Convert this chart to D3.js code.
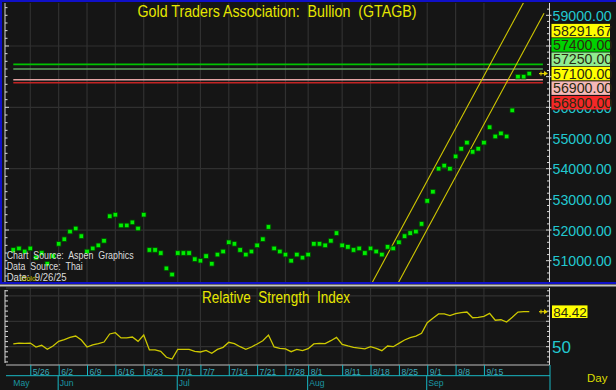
<!DOCTYPE html>
<html><head><meta charset="utf-8">
<script src="https://cdn.jsdelivr.net/npm/d3@7"></script>
<style>
html,body{margin:0;padding:0;background:#151515;}
svg{display:block;font-family:"Liberation Sans",Arial,sans-serif;}
</style>
</head><body>
<svg id="c" width="616" height="390"></svg>
<script>
// ---------- data ----------
const firstDay = "2025-05-21";
const lastDay = "2025-09-25";
const prices = [
  51350, 51400, 51300, 51400, 51100, 51250, 50900, 51150, 51550, 51700,
  51950, 52050, 51800, 51300, 51400, 51500, 51650, 52450, 52500, 52150,
  52150, 52250, 52050, 52500, 51350, 51350, 51250, 50750, 50550, 51250,
  51250, 51250, 51050, 51000, 51150, 50900, 51200, 51300, 51600, 51550,
  51350, 51200, 51300, 51500, 51700, 52100, 51400, 51300, 51200, 51000,
  51200, 51100, 51200, 51550, 51550, 51500, 51650, 51900, 51500, 51450,
  51350, 51400, 51250, 51400, 51300, 51200, 51450, 51400, 51600, 51800,
  51900, 51950, 52200, 52950, 53250, 54000, 54100, 54000, 54400, 54650,
  54850, 54550, 54650, 54850, 55350, 55050, 55150, 55050, 55900, 57000,
  57000, 57100
];
const rsi = [
  52.7, 53.6, 53.3, 53.6, 49.7, 51.4, 47.4, 50.7, 55.3, 56.9,
  59.2, 60.5, 56.6, 49.7, 51.7, 53.0, 54.6, 62.5, 63.8, 58.6,
  58.6, 59.5, 55.3, 61.5, 46.8, 46.8, 45.4, 39.6, 37.9, 47.4,
  47.4, 47.4, 45.4, 44.8, 46.4, 43.5, 47.4, 49.4, 54.3, 53.0,
  50.0, 47.4, 49.7, 52.7, 55.9, 61.5, 49.7, 48.4, 47.8, 45.1,
  47.4, 46.1, 48.1, 52.7, 53.3, 53.0, 55.9, 59.2, 52.3, 50.7,
  49.4, 48.7, 47.8, 50.0, 48.4, 46.1, 50.7, 50.0, 53.3, 56.6,
  58.9, 60.5, 63.2, 73.6, 77.9, 82.2, 82.2, 80.5, 82.5, 83.5,
  84.1, 78.5, 78.9, 79.9, 82.8, 76.0, 76.5, 74.3, 78.9, 84.1,
  84.4, 84.42
];
const dayTicks = ["5/26","6/2","6/9","6/16","6/23","7/1","7/7","7/14","7/21","7/28","8/1","8/11","8/18","8/25","9/1","9/8","9/15"];
const monthNames = ["May","Jun","Jul","Aug","Sep"];
const monthStarts = ["5/21","6/2","7/1","8/1","9/1"];
const priceAxisTicks = [51000,52000,53000,54000,55000,56000,57000,58000,59000];
const priceGrid = [52000,54000,56000,58000];
const refLevels = [57400, 57250, 56900, 56800];
const refLineColors = ["#00c400", "#62a262", "#e4a4a4", "#c42424"];
const boxValues = [58291.67, 57400, 57250, 57100, 56900, 56800];
const boxColors = ["#ffff00", "#00d200", "#90ec90", "#ffff00", "#f6b8b8", "#f42828"];
const lastPrice = 57100;
const channelIdx = [60, 93.6];
const channelUpper = [49160, 60650];
const channelLower = [47580, 59070];
const rsiAxisTicks = [50];
const rsiGrid = [50, 75, 100];
const rsiLast = 84.42;
const titleMain = "Gold Traders Association:  Bullion  (GTAGB)";
const titleRsi = "Relative  Strength  Index";
const notes = ["Chart  Source:  Aspen  Graphics", "Data  Source:  Thai", "Date:  9/26/25"];

// ---------- setup ----------
const svg = d3.select("#c");
const parse = d3.timeParse("%Y-%m-%d");
const fmt = d3.timeFormat("%-m/%-d");
const days = d3.timeDay.range(parse(firstDay), d3.timeDay.offset(parse(lastDay), 1))
  .filter(d => d.getDay() !== 0 && d.getDay() !== 6);
const dayIndex = new Map(days.map((d, i) => [fmt(d), i]));

const PL = 6, PR = 548.5, PT = 3, PB = 282;       // main plot
const RT = 288, RB = 365;                          // rsi plot
const x = d3.scaleLinear().domain([0, days.length - 1]).range([13.3, 529.3]);
const y = d3.scaleLinear().domain([51000, 59000]).range([260.7, 15.3]);
const yR = d3.scaleLinear().domain([50, rsiLast]).range([346.7, 311.7]);

const BG = "#151515", GRID = "#303030", CYAN = "#22c8d0", YEL = "#e6e600";

svg.append("rect").attr("width", 616).attr("height", 390).attr("fill", BG);

const defs = svg.append("defs");
defs.append("clipPath").attr("id", "cm").append("rect")
  .attr("x", PL).attr("y", PT).attr("width", PR - PL).attr("height", PB - PT);
defs.append("clipPath").attr("id", "cr").append("rect")
  .attr("x", PL).attr("y", RT).attr("width", PR - PL).attr("height", RB - RT);

// ---------- main panel ----------
const gm = svg.append("g");
const tickIdx = dayTicks.map(t => dayIndex.get(t));

// grid
gm.selectAll(".vg").data(tickIdx).join("line")
  .attr("x1", d => x(d)).attr("x2", d => x(d)).attr("y1", PT).attr("y2", PB)
  .attr("stroke", GRID).attr("stroke-width", 1.2);
gm.selectAll(".hg").data(priceGrid).join("line")
  .attr("x1", PL).attr("x2", PR).attr("y1", d => y(d)).attr("y2", d => y(d))
  .attr("stroke", GRID).attr("stroke-width", 1.2);

const clipM = gm.append("g").attr("clip-path", "url(#cm)");

// reference lines
clipM.selectAll(".ref").data(refLevels).join("line")
  .attr("x1", x(0)).attr("x2", x(93.4))
  .attr("y1", d => y(d)).attr("y2", d => y(d))
  .attr("stroke", (d, i) => refLineColors[i]).attr("stroke-width", 1.6);

// channel lines
[channelUpper, channelLower].forEach(vals => {
  clipM.append("line")
    .attr("x1", x(channelIdx[0])).attr("y1", y(vals[0]))
    .attr("x2", x(channelIdx[1])).attr("y2", y(vals[1]))
    .attr("stroke", "#d0c800").attr("stroke-width", 1.1);
});

// price points
clipM.selectAll(".pt").data(prices).join("rect")
  .attr("x", (d, i) => x(i) - 2.3).attr("y", d => y(d) - 2.3)
  .attr("width", 4.6).attr("height", 4.6)
  .attr("fill", "#00ee00").attr("stroke", "#004a00").attr("stroke-width", 0.8);

// last-price arrow marker
function marker(g, yy) {
  g.append("line").attr("x1", 539).attr("x2", 545).attr("y1", yy).attr("y2", yy)
    .attr("stroke", "#e0d000").attr("stroke-width", 1.2);
  g.append("line").attr("x1", 541).attr("x2", 541).attr("y1", yy - 2).attr("y2", yy + 2)
    .attr("stroke", "#e0d000").attr("stroke-width", 1);
  g.append("path").attr("d", `M544,${yy - 2.5}L548,${yy}L544,${yy + 2.5}Z`).attr("fill", "#e0d000");
}
marker(gm, y(lastPrice));

// left axis ticks
gm.append("line").attr("x1", 5).attr("x2", 5).attr("y1", PT).attr("y2", PB)
  .attr("stroke", "#d8d8d8").attr("stroke-width", 1);
const leftTicks = d3.range(50500, 59500, 250).filter(v => y(v) > PT + 1 && y(v) < PB - 1);
gm.selectAll(".lt").data(leftTicks).join("line")
  .attr("x1", 5).attr("x2", d => d % 2000 === 0 ? 9 : 7.5)
  .attr("y1", d => y(d)).attr("y2", d => y(d))
  .attr("stroke", "#d8d8d8").attr("stroke-width", 1);

// right axis
gm.append("line").attr("x1", 549.5).attr("x2", 549.5).attr("y1", PT).attr("y2", PB)
  .attr("stroke", "#d8d8d8").attr("stroke-width", 1);
const rightTicks = d3.range(50400, 59600, 200).filter(v => y(v) > PT + 1 && y(v) < PB - 1);
gm.selectAll(".rt").data(rightTicks).join("line")
  .attr("x1", d => d % 1000 === 0 ? 546 : 547).attr("x2", d => d % 1000 === 0 ? 551.5 : 549.5)
  .attr("y1", d => y(d)).attr("y2", d => y(d))
  .attr("stroke", "#d8d8d8").attr("stroke-width", 1);

// stacked value boxes (positions resolved so they don't collide)
const anchorI = boxValues.indexOf(lastPrice);
const pos = boxValues.map(v => y(v));
for (let i = anchorI - 1; i >= 0; i--) pos[i] = Math.min(pos[i], pos[i + 1] - 14.3);
for (let i = anchorI + 1; i < boxValues.length; i++) pos[i] = Math.max(pos[i], pos[i - 1] + 14.6);
const boxTop = Math.min(...pos) - 6.8, boxBot = Math.max(...pos) + 6.7;

// axis labels that are fully hidden behind the boxes are not drawn
const visibleTicks = priceAxisTicks.filter(v => !(y(v) - 5 > boxTop && y(v) + 5 < boxBot));
const axisR = d3.axisRight(y).tickValues(visibleTicks).tickFormat(d3.format(".2f")).tickSize(0).tickPadding(0);
const ga = gm.append("g").attr("transform", "translate(552.5,0)").call(axisR);
ga.select(".domain").remove();
ga.selectAll("text").attr("fill", CYAN).attr("font-size", "14.2px")
  .attr("font-family", "'Liberation Sans',Arial,sans-serif").attr("dy", "0.36em");

const bx = gm.selectAll(".bx").data(boxValues).join("g")
  .attr("transform", (d, i) => `translate(551.5,${pos[i]})`);
bx.append("rect").attr("x", 0).attr("y", -6.8).attr("width", 58.5).attr("height", 13.5)
  .attr("fill", (d, i) => boxColors[i]);
bx.append("text").attr("x", 1.5).attr("y", 0).attr("dy", "0.36em")
  .attr("font-size", "14.2px").attr("fill", "#2a2a10").text(d => d3.format(".2f")(d));

// title
gm.append("text").attr("x", 277).attr("y", 17.3).attr("text-anchor", "middle")
  .attr("font-size", "16px").attr("fill", YEL)
  .attr("textLength", 279).attr("lengthAdjust", "spacingAndGlyphs")
  .style("white-space", "pre").text(titleMain);

// notes
const noteLens = [127, 76, 60];
const noteBase = [259, 270, 281];
notes.forEach((t, i) => {
  gm.append("text").attr("x", 6.7).attr("y", noteBase[i]).attr("font-size", "11px")
    .attr("fill", "#dcdcdc").attr("textLength", noteLens[i]).attr("lengthAdjust", "spacingAndGlyphs")
    .style("white-space", "pre").text(t);
});
gm.append("text").attr("x", 21).attr("y", 280.5).attr("font-size", "7px").attr("fill", "#c8c800").text("Gold");

// frame
gm.append("line").attr("x1", 0).attr("x2", 616).attr("y1", 1).attr("y2", 1).attr("stroke", "#1010c8").attr("stroke-width", 2);
gm.append("line").attr("x1", 1).attr("x2", 1).attr("y1", 0).attr("y2", 284).attr("stroke", "#1010c8").attr("stroke-width", 2);
gm.append("line").attr("x1", 0).attr("x2", 616).attr("y1", 283).attr("y2", 283).attr("stroke", "#1010c8").attr("stroke-width", 2);
gm.append("line").attr("x1", 0).attr("x2", 616).attr("y1", 285.5).attr("y2", 285.5).attr("stroke", "#c4c4c4").attr("stroke-width", 2);

// ---------- RSI panel ----------
const gr = svg.append("g");
gr.selectAll(".vg").data(tickIdx).join("line")
  .attr("x1", d => x(d)).attr("x2", d => x(d)).attr("y1", RT).attr("y2", RB)
  .attr("stroke", GRID).attr("stroke-width", 1.2);
gr.selectAll(".hg").data(rsiGrid).join("line")
  .attr("x1", PL).attr("x2", PR).attr("y1", d => yR(d)).attr("y2", d => yR(d))
  .attr("stroke", GRID).attr("stroke-width", 1.2);
gr.append("line").attr("x1", PL).attr("x2", PR).attr("y1", RT).attr("y2", RT).attr("stroke", "#3a3a3a");

const line = d3.line().x((d, i) => x(i)).y(d => yR(d));
gr.append("path").attr("clip-path", "url(#cr)").datum(rsi).attr("d", line)
  .attr("fill", "none").attr("stroke", "#cdc800").attr("stroke-width", 1.3);
marker(gr, yR(rsiLast));

gr.append("text").attr("x", 276).attr("y", 303.3).attr("text-anchor", "middle")
  .attr("font-size", "16px").attr("fill", YEL)
  .attr("textLength", 148).attr("lengthAdjust", "spacingAndGlyphs")
  .style("white-space", "pre").text(titleRsi);

// rsi axes
gr.append("line").attr("x1", 5).attr("x2", 5).attr("y1", RT + 2).attr("y2", RB - 2).attr("stroke", "#d8d8d8");
const rl = d3.range(35, 110, 5).filter(v => yR(v) > RT + 1 && yR(v) < RB - 2);
gr.selectAll(".rlt").data(rl).join("line")
  .attr("x1", 5).attr("x2", 8).attr("y1", d => yR(d)).attr("y2", d => yR(d)).attr("stroke", "#d8d8d8");
gr.append("line").attr("x1", 549.5).attr("x2", 549.5).attr("y1", RT).attr("y2", RB).attr("stroke", "#d8d8d8");
gr.selectAll(".rrt").data(rl).join("line")
  .attr("x1", d => d % 25 === 0 ? 546 : 547).attr("x2", 549.5).attr("y1", d => yR(d)).attr("y2", d => yR(d)).attr("stroke", "#d8d8d8");
const axisRR = d3.axisRight(yR).tickValues(rsiAxisTicks).tickSize(0).tickPadding(0);
const gra = gr.append("g").attr("transform", "translate(552,0)").call(axisRR);
gra.select(".domain").remove();
gra.selectAll("text").attr("fill", CYAN).attr("font-size", "17px")
  .attr("font-family", "'Liberation Sans',Arial,sans-serif").attr("dy", "0.36em");
const rb = gr.append("g").attr("transform", `translate(552,${yR(rsiLast)})`);
rb.append("rect").attr("x", 0).attr("y", -6.3).attr("width", 35.5).attr("height", 12.6).attr("fill", "#ffff00");
rb.append("text").attr("x", 1.2).attr("dy", "0.36em").attr("font-size", "13.4px").attr("fill", "#2a2a10")
  .text(d3.format(".2f")(rsiLast));

// date axis
gr.append("line").attr("x1", PL).attr("x2", 549.5).attr("y1", RB).attr("y2", RB).attr("stroke", "#bdbdbd").attr("stroke-width", 1.2);
gr.append("line").attr("x1", 6).attr("x2", 550).attr("y1", 375.7).attr("y2", 375.7).attr("stroke", "#18b8c4").attr("stroke-width", 1);
gr.append("line").attr("x1", 550).attr("x2", 550).attr("y1", RB).attr("y2", 390).attr("stroke", "#18b8c4").attr("stroke-width", 1);
const xAxisDays = d3.axisBottom(x).tickValues(tickIdx).tickSize(0).tickFormat((d, i) => dayTicks[i]);
const gx = gr.append("g").attr("transform", `translate(0,${RB})`).call(xAxisDays);
gx.select(".domain").remove();
gx.selectAll(".tick line").remove();
gx.selectAll(".tick").append("line").attr("x1", 0).attr("x2", 0).attr("y1", 0).attr("y2", 10.7)
  .attr("stroke", "#18b8c4");
gx.selectAll(".tick text").attr("text-anchor", "start").attr("x", 2).attr("y", 9.5).attr("dy", null)
  .attr("fill", "#3aa8b8").attr("font-size", "8.6px").attr("font-family", "'Liberation Sans',Arial,sans-serif");

const monthIdx = monthStarts.map(m => dayIndex.get(m));
const gmo = gr.append("g");
gmo.selectAll("line").data(monthIdx.slice(1)).join("line")
  .attr("x1", d => x(d) - 0.5).attr("x2", d => x(d) - 0.5).attr("y1", 375.7).attr("y2", 390)
  .attr("stroke", "#18b8c4");
gmo.selectAll("text").data(monthIdx).join("text")
  .attr("x", (d, i) => i === 0 ? 13.3 : x(d) + 1).attr("y", 386)
  .attr("fill", "#1a96a2").attr("font-size", "8.6px").text((d, i) => monthNames[i]);

gr.append("text").attr("x", 587).attr("y", 382).attr("font-size", "11.5px").attr("fill", "#dcdc00").text("Day");
</script>
</body></html>
